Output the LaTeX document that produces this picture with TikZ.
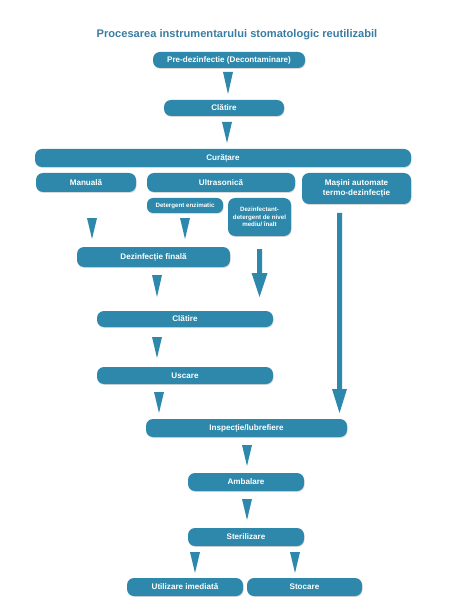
\documentclass[tikz,border=0pt]{standalone}
\usepackage{fontspec}
\setmainfont{Liberation Sans}
\usetikzlibrary{shadows}

\definecolor{stepblue}{HTML}{2D88AB}
\definecolor{titleblue}{HTML}{3A7CA2}

\tikzset{
  stage/.style={fill=stepblue, rounded corners=7pt, text=white, align=center,
    font=\bfseries\fontsize{8.1}{9.5}\selectfont, inner sep=1pt,
    drop shadow={shadow xshift=0.6pt, shadow yshift=-0.9pt, opacity=0.3}},
  smallstage/.style={stage, font=\bfseries\fontsize{6.2}{7.6}\selectfont},
  wedge/.style={fill=stepblue},
}

% narrow down-pointing wedge: x, top y, tip y
\newcommand{\wedgedown}[3]{\fill[wedge] (#1-5,#2) -- (#1+5,#2) -- (#1,#3) -- cycle;}
% shaft-and-head arrow: x, top y, head y, tip y, half shaft, half head
\newcommand{\shaftdown}[6]{\fill[wedge] (#1-#5,#2) -- (#1+#5,#2) -- (#1+#5,#3) -- (#1+#6,#3)
  -- (#1,#4) -- (#1-#6,#3) -- (#1-#5,#3) -- cycle;}

\begin{document}
\begin{tikzpicture}[x=1pt, y=-1pt]
  \useasboundingbox (0,0) rectangle (474,612);

  % title
  \node[font=\bfseries\fontsize{11.1}{13}\selectfont, text=titleblue] (title) at (237,35)
    {Procesarea instrumentarului stomatologic reutilizabil};

  % steps
  \node[stage, minimum width=152pt, minimum height=16pt] (predez) at (229,60) {Pre-dezinfectie (Decontaminare)};
  \node[stage, minimum width=120pt, minimum height=16pt] (clatire) at (224,108) {Clătire};
  \node[stage, minimum width=376pt, minimum height=18pt] (curatare) at (223,158) {Curățare};
  \node[stage, minimum width=100pt, minimum height=19pt] (manuala) at (86,182.5) {Manuală};
  \node[stage, minimum width=148pt, minimum height=19pt] (ultra) at (221,182.5) {Ultrasonică};
  \node[stage, minimum width=109pt, minimum height=31pt] (masini) at (356.5,188.5) {Mașini automate\\termo-dezinfecție};
  \node[smallstage, minimum width=76pt, minimum height=15pt, rounded corners=6pt] (enzim) at (185,205.5) {Detergent enzimatic};
  \node[smallstage, minimum width=63pt, minimum height=38pt, rounded corners=7pt] (dezdet) at (259.5,217)
    {Dezinfectant-\\detergent de nivel\\mediu/ înalt};
  \node[stage, minimum width=153pt, minimum height=20pt] (dezfin) at (153.5,257) {Dezinfecție finală};
  \node[stage, minimum width=176pt, minimum height=16pt] (clatire2) at (185,319) {Clătire};
  \node[stage, minimum width=176pt, minimum height=17pt] (uscare) at (185,375.5) {Uscare};
  \node[stage, minimum width=201pt, minimum height=18pt] (inspectie) at (246.5,428) {Inspecție/lubrefiere};
  \node[stage, minimum width=116pt, minimum height=18pt] (ambalare) at (246,482) {Ambalare};
  \node[stage, minimum width=116pt, minimum height=18pt] (steril) at (246,537) {Sterilizare};
  \node[stage, minimum width=116pt, minimum height=18pt] (utilizare) at (185,587) {Utilizare imediată};
  \node[stage, minimum width=115pt, minimum height=18pt] (stocare) at (304.5,587) {Stocare};

  % wedges between steps
  \wedgedown{228}{72}{94}
  \wedgedown{227}{122}{143}
  \wedgedown{92}{218}{239}
  \wedgedown{185}{218}{239}
  \wedgedown{157}{275}{297}
  \wedgedown{157}{337}{358}
  \wedgedown{159}{392}{413}
  \wedgedown{247}{445}{466}
  \wedgedown{247}{499}{520}
  \wedgedown{195}{552}{573}
  \wedgedown{295}{552}{573}

  % arrows with shaft
  \shaftdown{259.5}{249}{273}{297}{2.5}{8}
  \shaftdown{339.5}{213}{389}{413}{2.5}{7.5}
\end{tikzpicture}
\end{document}
